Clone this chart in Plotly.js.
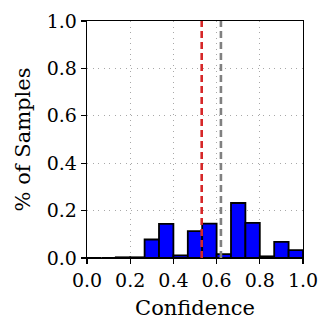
<!DOCTYPE html>
<html>
<head>
<meta charset="utf-8">
<script src="https://cdn.plot.ly/plotly-3.0.1.min.js"></script>
<style>
  html, body { margin: 0; padding: 0; background: #fff; }
  #chart { width: 333px; height: 333px; }
</style>
</head>
<body>
<div id="chart"></div>
<script>
// fraction of samples in each of 15 equal confidence bins over [0, 1]
const binFractions = [0, 0, 0.003, 0.003, 0.078, 0.144, 0.011, 0.113, 0.145, 0.016, 0.232, 0.148, 0.007, 0.068, 0.033];
// vertical reference lines (dashed)
const meanConfidence = 0.531;
const accuracy = 0.620;
const tickVals = [0, 0.2, 0.4, 0.6, 0.8, 1.0];
const tickText = ['0.0', '0.2', '0.4', '0.6', '0.8', '1.0'];

const binWidth = 1 / binFractions.length;
const binCenters = binFractions.map((_, i) => (i + 0.5) * binWidth);

const font = 'DejaVu Serif, serif';

const trace = {
  type: 'bar',
  x: binCenters,
  y: binFractions,
  width: binWidth,
  marker: { color: '#0000ff', line: { color: '#000000', width: 1.8 } },
  hoverinfo: 'x+y'
};

// dashed vertical lines over the bars
function vline (x, color) {
  return {
    type: 'line', xref: 'x', yref: 'paper',
    x0: x, x1: x, y0: 0, y1: 1,
    line: { color, width: 2.6, dash: '7px,4px' },
    layer: 'above'
  };
}

const axisCommon = {
  range: [0, 1],
  tickvals: tickVals,
  ticktext: tickText,
  ticks: 'outside',
  ticklen: 5,
  tickwidth: 1.2,
  tickcolor: '#000',
  showline: true,
  linecolor: '#000',
  linewidth: 1.3,
  mirror: true,
  showgrid: true,
  gridcolor: '#a8a8a8',
  gridwidth: 1,
  griddash: '1px,4.5px',
  zeroline: false,
  tickfont: { family: font, size: 19, color: '#000' }
};

const layout = {
  width: 333,
  height: 333,
  margin: { l: 87, r: 30, t: 21, b: 75 },
  paper_bgcolor: '#fff',
  plot_bgcolor: '#fff',
  showlegend: false,
  bargap: 0,
  xaxis: Object.assign({}, axisCommon, {
    title: { text: 'Confidence', font: { family: font, size: 21, color: '#000' }, standoff: 10 }
  }),
  yaxis: Object.assign({}, axisCommon, {
    title: { text: '% of Samples', font: { family: font, size: 21, color: '#000' }, standoff: 10 }
  }),
  shapes: [vline(meanConfidence, '#d62728'), vline(accuracy, '#808080')]
};

Plotly.newPlot('chart', [trace], layout, { displayModeBar: false, staticPlot: true });
</script>
</body>
</html>
